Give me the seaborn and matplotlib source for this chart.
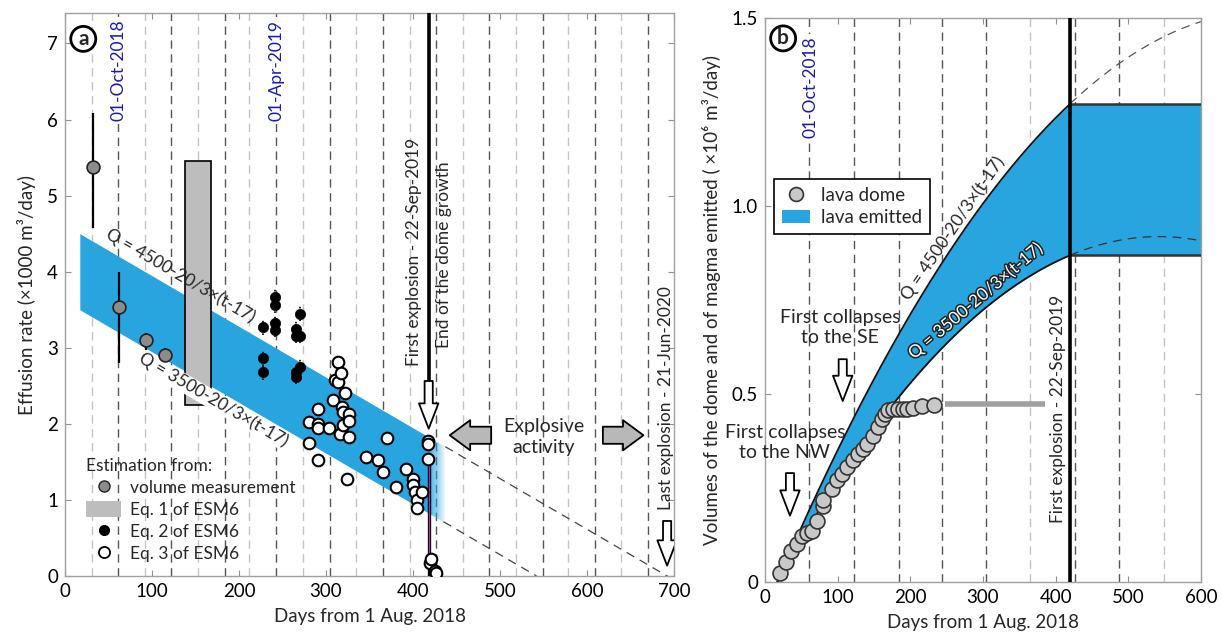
import numpy as np
import pandas as pd
import matplotlib
matplotlib.use('Agg')
import matplotlib.pyplot as plt
import seaborn as sns
from matplotlib.patches import FancyArrowPatch, Patch
from matplotlib.lines import Line2D
import matplotlib.patheffects as pe

sns.set_theme(style='white')
plt.rcParams['font.family'] = ['Lato', 'DejaVu Sans']

BLUE = '#28a5df'
DATE_BLUE = '#1a1ab0'

# ---------------- data ----------------
# model Q = Q0 - 20/3 (t - 17)  [m3/day]
T0 = 17
Q0_UP, Q0_LO = 4500, 3500
DECAY = 20 / 3
T_END = 419          # end of dome growth (first explosion)

# panel a: volume measurement (gray circles with error bars)
vol_day = [32, 62, 93, 115]
vol_rate = [5.38, 3.54, 3.10, 2.91]
vol_lo = [4.58, 2.80, 2.97, 2.82]
vol_hi = [6.09, 3.99, 3.20, 3.00]

# panel a: Eq. 1 of ESM6 (gray bar)
eq1_start, eq1_end = 138, 168
eq1_lo, eq1_hi = 2.25, 5.45

# panel a: Eq. 2 of ESM6 (black dots)
eq2_day = [227, 227, 227, 241, 241, 241, 241, 266, 266, 266, 266, 270, 270, 270]
eq2_rate = [3.27, 2.86, 2.68, 3.67, 3.56, 3.32, 3.24, 3.25, 3.16, 2.68, 2.62, 3.45, 3.16, 2.75]

# panel a: Eq. 3 of ESM6 (open circles)
eq3_day = [280, 280, 291, 291, 291, 291, 303, 308, 310, 314, 314, 317, 318, 316, 320, 320,
           322, 324, 326, 326, 326, 346, 360, 366, 370, 380, 392, 400, 400, 402, 404, 405,
           410, 417, 417, 417, 420, 421, 425, 426]
eq3_rate = [2.02, 1.75, 2.19, 2.00, 1.95, 1.53, 1.95, 2.31, 2.57, 2.81, 2.55, 2.67, 2.22, 1.87,
            2.15, 1.98, 2.40, 1.28, 2.13, 2.04, 1.83, 1.57, 1.53, 1.37, 1.81, 1.17, 1.41, 1.28,
            1.20, 1.11, 1.00, 0.89, 1.11, 1.78, 1.74, 1.54, 0.17, 0.23, 0.06, 0.04]

# month boundaries (days from 1 Aug 2018)
dark_a = [61, 122, 184, 243, 304, 365, 426, 487, 549, 609, 670]
light_a = [31, 92, 153, 212, 273, 334, 396, 457, 518, 578, 639]
dark_b = [61, 122, 184, 243, 304, 426, 487]
light_b = [365, 549]

# panel b: lava dome volume (x10^6 m3)
dome_day = [20.6, 28.9, 35.3, 43.6, 50.5, 57.3, 64.2, 71.1, 80.3, 80.3, 91.8, 98.6, 105.5,
            112.4, 121.6, 128.5, 135.4, 140.0, 148.2, 156.0, 160.6, 165.1, 169.7, 176.6,
            183.5, 190.3, 195.8, 204.1, 215.6, 233.0]
dome_vol = [0.024, 0.053, 0.082, 0.100, 0.122, 0.129, 0.136, 0.161, 0.201, 0.219, 0.248,
            0.270, 0.286, 0.306, 0.325, 0.341, 0.355, 0.368, 0.387, 0.412, 0.434, 0.448,
            0.457, 0.461, 0.461, 0.461, 0.461, 0.464, 0.467, 0.470]
dome_plateau_day = [248, 385]
dome_plateau_vol = [0.4726, 0.4726]


def q_rate(t, q0):
    return (q0 - DECAY * (np.asarray(t, float) - T0)) / 1000.0


def q_cum(t, q0):
    d = np.asarray(t, float) - T0
    return (q0 * d - DECAY / 2 * d ** 2) / 1e6


# ---------------- figure ----------------
fig = plt.figure(figsize=(12.22, 6.35), dpi=100)
axa = fig.add_axes([0.0532, 0.0929, 0.4984, 0.8866])
axb = fig.add_axes([0.626, 0.0835, 0.3568, 0.888])

SPINE = '#a0a0a0'
for ax in (axa, axb):
    for s in ax.spines.values():
        s.set_color(SPINE)
        s.set_linewidth(1.0)
    ax.tick_params(direction='in', length=4, width=0.8, color='#909090',
                   labelsize=13.5, top=True, right=True, bottom=True, left=True,
                   labelcolor='black', pad=5)


def month_lines(ax, dark, light):
    for d in light:
        ax.axvline(d, color='#c4c4c4', lw=1.0, ls=(0, (6, 4)), zorder=0)
    for d in dark:
        ax.axvline(d, color='#555555', lw=1.0, ls=(0, (6, 4)), zorder=0)


def hollow_arrow(ax, xy_tail, xy_tip, fc='white', hw=1.0, hl=1.3, tw=0.42, ms=14):
    arr = FancyArrowPatch(xy_tail, xy_tip,
                          arrowstyle=f'simple,head_length={hl},head_width={hw},tail_width={tw}',
                          mutation_scale=ms, fc=fc, ec='black', lw=1.3, zorder=6)
    ax.add_patch(arr)


def angle_of(ax, x0, y0, x1, y1):
    p0 = ax.transData.transform((x0, y0))
    p1 = ax.transData.transform((x1, y1))
    return np.degrees(np.arctan2(p1[1] - p0[1], p1[0] - p0[0]))


# ================= panel a =================
ax = axa
ax.set_xlim(0, 700)
ax.set_ylim(0, 7.4)
ax.set_xticks(range(0, 701, 100))
ax.set_yticks(range(0, 8))
month_lines(ax, dark_a, light_a)

tt = np.array([T0, T_END])
ax.fill_between(tt, q_rate(tt, Q0_LO), q_rate(tt, Q0_UP), color=BLUE, lw=0, zorder=1)
# fading end of band
nfade = 18
edges = np.linspace(T_END, T_END + 18, nfade + 1)
for i in range(nfade):
    seg = edges[i:i + 2]
    ax.fill_between(seg, q_rate(seg, Q0_LO), q_rate(seg, Q0_UP), color=BLUE, lw=0,
                    alpha=1 - (i + 0.5) / nfade, zorder=1)
# dashed continuation
tu = np.array([437, 700])
tl = np.array([435, 542])
ax.plot(tu, q_rate(tu, Q0_UP), color='#444444', lw=0.9, ls=(0, (7, 5)), zorder=2)
ax.plot(tl, q_rate(tl, Q0_LO), color='#444444', lw=0.9, ls=(0, (7, 5)), zorder=2)

# gray bar (Eq. 1)
ax.bar([(eq1_start + eq1_end) / 2], [eq1_hi - eq1_lo], bottom=eq1_lo, width=eq1_end - eq1_start,
       color='#bdbdbd', edgecolor='black', lw=1.2, zorder=3)

# formula labels
ang = angle_of(ax, 0, q_rate(0, Q0_UP), 100, q_rate(100, Q0_UP))
t_lab = 128
ax.text(t_lab, q_rate(t_lab, Q0_UP) + 0.09, 'Q = 4500-20/3×(t-17)', rotation=ang,
        rotation_mode='anchor', ha='center', va='bottom', fontsize=12.5, zorder=4)
t_lab = 175
ax.text(t_lab, q_rate(t_lab, Q0_LO) - 0.04, 'Q = 3500-20/3×(t-17)', rotation=ang,
        rotation_mode='anchor', ha='center', va='top', fontsize=12.5, zorder=4,
        bbox=dict(boxstyle='square,pad=0.05', fc='white', ec='none'))

# volume measurements with error bars
ax.vlines(vol_day, vol_lo, vol_hi, color='black', lw=1.6, zorder=4)
sns.scatterplot(x=vol_day, y=vol_rate, ax=ax, s=85, color='#8c8c8c', edgecolor='#222222',
                linewidth=1.2, zorder=5, legend=False)

# Eq. 2 black dots with dotted error bars
ax.vlines(eq2_day, np.array(eq2_rate) - 0.1, np.array(eq2_rate) + 0.1, color='black',
          lw=1.2, ls=(0, (1, 1.5)), zorder=4)
sns.scatterplot(x=eq2_day, y=eq2_rate, ax=ax, s=55, color='black', edgecolor='black',
                linewidth=0.5, zorder=5, legend=False)

# explosion line and data drop
ax.plot([418, 418], [0, 1.6], color='black', lw=2.4, zorder=4)
ax.plot([418, 418], [0.25, 1.5], color='#9a3a9a', lw=1.0, zorder=4)
sns.scatterplot(x=eq3_day, y=eq3_rate, ax=ax, s=70, color='white', edgecolor='black',
                linewidth=1.5, zorder=6, legend=False)

ax.plot([418, 418], [2.57, 7.4], color='black', lw=2.6, zorder=4)
hollow_arrow(ax, (418, 2.6), (418, 1.9))
hollow_arrow(ax, (692, 0.76), (692, 0.1))

# Explosive activity arrows
hollow_arrow(ax, (493, 1.85), (439, 1.85), fc='#b8b8b8', hw=1.55, hl=1.05, tw=0.88)
hollow_arrow(ax, (615, 1.85), (668, 1.85), fc='#b8b8b8', hw=1.55, hl=1.05, tw=0.88)
ax.text(550, 1.83, 'Explosive\nactivity', ha='center', va='center', fontsize=14,
        linespacing=1.25)

ax.text(401, 2.76, 'First explosion - 22-Sep-2019', rotation=90, ha='center', va='bottom',
        fontsize=12.5)
ax.text(436, 3.0, 'End of the dome growth', rotation=90, ha='center', va='bottom',
        fontsize=12.5)
ax.text(691, 0.87, 'Last explosion - 21-Jun-2020', rotation=90, ha='center', va='bottom',
        fontsize=12.5)

for d, lab in [(61, '01-Oct-2018'), (243, '01-Apr-2019')]:
    ax.text(d, 5.98, lab, rotation=90, ha='center', va='bottom', fontsize=12.5,
            color=DATE_BLUE, zorder=3,
            bbox=dict(boxstyle='square,pad=0.15', fc='white', ec='none'))

ax.text(21, 7.06, 'a', ha='center', va='center', fontsize=15, fontweight='bold',
        bbox=dict(boxstyle='circle,pad=0.12', fc='white', ec='black', lw=2.0), zorder=7)

ax.set_xlabel('Days from 1 Aug. 2018', fontsize=13.5, labelpad=6)
ax.set_ylabel('Effusion rate (×1000 m³/day)', fontsize=13.5, labelpad=8)

handles = [
    Line2D([], [], ls='none', marker='o', ms=8, mfc='#8c8c8c', mec='#222222', mew=1.0),
    Patch(fc='#bdbdbd', ec='none'),
    Line2D([], [], ls='none', marker='o', ms=7, mfc='black', mec='black'),
    Line2D([], [], ls='none', marker='o', ms=8, mfc='white', mec='black', mew=1.3),
]
leg = ax.legend(handles, ['volume measurement', 'Eq. 1 of ESM6', 'Eq. 2 of ESM6', 'Eq. 3 of ESM6'],
                title='Estimation from:', loc='lower left', bbox_to_anchor=(0.035, 0.025),
                frameon=False, fontsize=12.5, title_fontsize=12.5, borderaxespad=0,
                borderpad=0, handlelength=2.0, handleheight=1.0, handletextpad=0.5,
                labelspacing=0.3)
leg._legend_box.align = 'left'
leg.set_zorder(8)

# ================= panel b =================
ax = axb
ax.set_xlim(0, 600)
ax.set_ylim(0, 1.5)
ax.set_xticks(range(0, 601, 100))
ax.set_yticks([0, 0.5, 1.0, 1.5])
ax.set_yticklabels(['0', '0.5', '1.0', '1.5'])
month_lines(ax, dark_b, light_b)

T_B = 420
tg = np.linspace(T0, T_B, 200)
up, lo = q_cum(tg, Q0_UP), q_cum(tg, Q0_LO)
ax.fill_between(tg, lo, up, color=BLUE, lw=0, zorder=1)
v_up_end, v_lo_end = float(q_cum(T_B, Q0_UP)), float(q_cum(T_B, Q0_LO))
ax.fill_between([T_B, 600], [v_lo_end] * 2, [v_up_end] * 2, color=BLUE, lw=0, zorder=1)
sns.lineplot(x=tg, y=up, ax=ax, color='#111111', lw=1.3, zorder=3)
sns.lineplot(x=tg, y=lo, ax=ax, color='#111111', lw=1.3, zorder=3)
ax.plot([T_B, 600], [v_up_end] * 2, color='#333333', lw=1.8, zorder=3)
ax.plot([T_B, 600], [v_lo_end] * 2, color='#333333', lw=1.8, zorder=3)
tc = np.linspace(T_B, 600, 100)
ax.plot(tc, q_cum(tc, Q0_UP), color='#555555', lw=0.9, ls=(0, (7, 5)), zorder=2)
ax.plot(tc, q_cum(tc, Q0_LO), color='#333333', lw=0.9, ls=(0, (7, 5)), zorder=2)
ax.axvline(T_B, color='black', lw=2.6, zorder=4)

# labels on curves
tl_up = 268
s_up = (Q0_UP - DECAY * (tl_up - T0)) / 1e6
ang_up = angle_of(ax, tl_up - 5, q_cum(tl_up, Q0_UP) - 5 * s_up, tl_up + 5, q_cum(tl_up, Q0_UP) + 5 * s_up)
ax.text(tl_up, float(q_cum(tl_up, Q0_UP)) + 0.008, 'Q = 4500-20/3×(t-17)', rotation=ang_up,
        rotation_mode='anchor', ha='center', va='bottom', fontsize=12.5, zorder=5)
tl_lo = 297
s_lo = (Q0_LO - DECAY * (tl_lo - T0)) / 1e6
ang_lo = angle_of(ax, tl_lo - 5, q_cum(tl_lo, Q0_LO) - 5 * s_lo, tl_lo + 5, q_cum(tl_lo, Q0_LO) + 5 * s_lo)
ax.text(tl_lo, float(q_cum(tl_lo, Q0_LO)) + 0.012, 'Q = 3500-20/3×(t-17)', rotation=ang_lo,
        rotation_mode='anchor', ha='center', va='bottom', fontsize=12.5, color='white', zorder=5,
        path_effects=[pe.withStroke(linewidth=2.2, foreground='#222222')])

ax.plot(dome_plateau_day, dome_plateau_vol, color='#a0a0a0', lw=4, solid_capstyle='butt', zorder=4)
sns.scatterplot(x=dome_day, y=dome_vol, ax=ax, s=115, color='#c8c8c8', edgecolor='#333333',
                linewidth=1.2, zorder=6, legend=False)

ax.text(103, 0.677, 'First collapses\nto the SE', ha='center', va='center', fontsize=14,
        linespacing=1.2, zorder=7)
ax.text(27.5, 0.372, 'First collapses\nto the NW', ha='center', va='center', fontsize=14,
        linespacing=1.2, zorder=7)
hollow_arrow(ax, (107, 0.60), (107, 0.474))
hollow_arrow(ax, (34.4, 0.297), (34.4, 0.169))

ax.text(403, 0.156, 'First explosion - 22-Sep-2019', rotation=90, ha='center', va='bottom',
        fontsize=12.5, zorder=5)
ax.text(62, 1.18, '01-Oct-2018', rotation=90, ha='center', va='bottom', fontsize=12.5,
        color=DATE_BLUE, zorder=3, bbox=dict(boxstyle='square,pad=0.15', fc='white', ec='none'))
ax.text(25, 1.446, 'b', ha='center', va='center', fontsize=15, fontweight='bold',
        bbox=dict(boxstyle='circle,pad=0.12', fc='white', ec='black', lw=2.0), zorder=7)

ax.set_xlabel('Days from 1 Aug. 2018', fontsize=13.5, labelpad=6)
ax.set_ylabel('Volumes of the dome and of magma emitted ( ×10⁶ m³/day)', fontsize=13.5, labelpad=8)

hb = [Line2D([], [], ls='none', marker='o', ms=10, mfc='#c8c8c8', mec='#333333', mew=1.2),
      Patch(fc=BLUE, ec='none')]
legb = ax.legend(hb, ['lava dome', 'lava emitted'], loc='upper left',
                 bbox_to_anchor=(0.021, 0.714), borderaxespad=0, fontsize=13.5,
                 frameon=True, fancybox=False, edgecolor='black', framealpha=1,
                 handlelength=1.5, handletextpad=0.6, labelspacing=0.3, borderpad=0.4)
legb.get_frame().set_linewidth(1.2)
legb.set_zorder(8)

fig.savefig('out.png', dpi=100)
